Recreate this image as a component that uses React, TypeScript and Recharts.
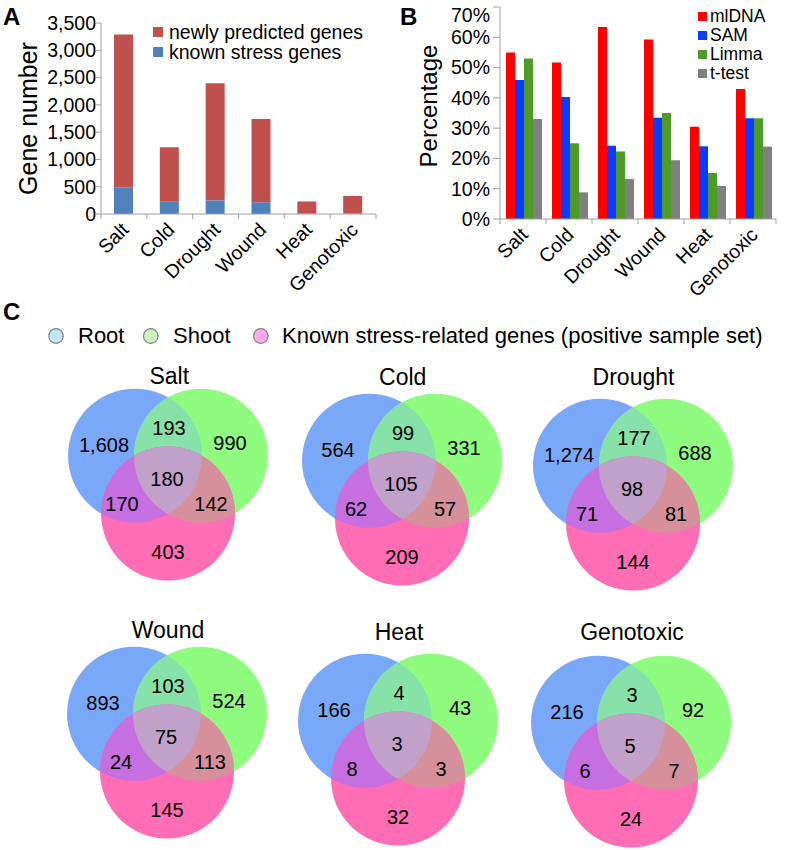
import React from 'react';
import { BarChart, Bar, XAxis, YAxis, Legend, ScatterChart, Scatter } from 'recharts';

const FONT = '"Liberation Sans", Arial, Helvetica, sans-serif';
const AXIS_GRAY = '#a0a0a0';

// ---- shared categories
const stresses = ['Salt', 'Cold', 'Drought', 'Wound', 'Heat', 'Genotoxic'];

// ---- panel A: gene numbers
const knownStressGenes = [490, 225, 250, 215, 5, 15];
const newlyPredictedGenes = [2800, 1000, 2145, 1525, 225, 315];
const geneTicks = [0, 500, 1000, 1500, 2000, 2500, 3000, 3500];

// ---- panel B: percentages
const mlDNA = [55, 51.7, 63.4, 59.3, 30.5, 42.9];
const sam = [45.9, 40.3, 24.2, 33.4, 24, 33.3];
const limma = [53, 25, 22.3, 35, 15.2, 33.3];
const tTest = [33, 8.8, 13.2, 19.4, 10.9, 23.9];
const pctTicks = [0, 10, 20, 30, 40, 50, 60, 70];

// ---- panel C: region counts
// order: root only, root&shoot, shoot only, all three, root&known, shoot&known, known only
const saltVenn = [1608, 193, 990, 180, 170, 142, 403];
const coldVenn = [564, 99, 331, 105, 62, 57, 209];
const droughtVenn = [1274, 177, 688, 98, 71, 81, 144];
const woundVenn = [893, 103, 524, 75, 24, 113, 145];
const heatVenn = [166, 4, 43, 3, 8, 3, 32];
const genotoxicVenn = [216, 3, 92, 5, 6, 7, 24];

const panelAData = stresses.map((s, i) => ({ name: s, known: knownStressGenes[i], newly: newlyPredictedGenes[i] }));
const panelBData = stresses.map((s, i) => ({ name: s, mlDNA: mlDNA[i], SAM: sam[i], Limma: limma[i], tTest: tTest[i] }));

// venn layout (local units = px)
const VENN_R = 67;
const vennSets = [
  { id: 'root', x: -33, y: -19.3, fill: '#7aa8f9' },
  { id: 'shoot', x: 33, y: -19.3, fill: '#8ffb7f' },
  { id: 'known', x: 0, y: 38.5, fill: '#ff6db4' },
];
const vennOverlaps = [
  { x: 33, y: -19.3, clip: 'root', fill: '#86e2a8' },
  { x: 0, y: 38.5, clip: 'root', fill: '#c56fe0' },
  { x: 0, y: 38.5, clip: 'shoot', fill: '#d6909b' },
  { x: 0, y: 38.5, clip: 'rootShoot', fill: '#c1a0c9' },
];
const regionSpots = [
  { x: -64, y: -30 }, { x: 1, y: -47 }, { x: 62, y: -32 }, { x: -1, y: 4 },
  { x: -46, y: 29 }, { x: 43, y: 29 }, { x: 0, y: 77 },
];
const vennPanels = [
  { id: 'salt', title: 'Salt', counts: saltVenn, cx: 168.3, cy: 474.8, base: 384 },
  { id: 'cold', title: 'Cold', counts: coldVenn, cx: 401.7, cy: 479.5, base: 385 },
  { id: 'drought', title: 'Drought', counts: droughtVenn, cx: 632.5, cy: 485.4, base: 385 },
  { id: 'wound', title: 'Wound', counts: woundVenn, cx: 167, cy: 732.9, base: 638 },
  { id: 'heat', title: 'Heat', counts: heatVenn, cx: 398, cy: 740, base: 640 },
  { id: 'geno', title: 'Genotoxic', counts: genotoxicVenn, cx: 631, cy: 741.9, base: 640 },
];

const CategoryTick = (props: any) => {
  const { x, y, payload, index, band, count } = props;
  const tx = x + 6;
  const ty = y + 17;
  return (
    <g>
      <line x1={x - band / 2} y1={y} x2={x - band / 2} y2={y + 5} stroke={AXIS_GRAY} />
      {index === count - 1 && <line x1={x + band / 2} y1={y} x2={x + band / 2} y2={y + 5} stroke={AXIS_GRAY} />}
      <text x={tx} y={ty} transform={`rotate(-45 ${tx} ${ty})`} textAnchor="end" fontSize={19.5} fontFamily={FONT} fill="#000">
        {payload.value}
      </text>
    </g>
  );
};

// value tick that keeps the top label inside the panel (as Excel does)
const ValueTick = (props: any) => {
  const { x, y, payload, tickFormatter } = props;
  const ty = Math.max(y, 15);
  return (
    <text x={x} y={ty} dy="0.35em" textAnchor="end" fontSize={19.5} fontFamily={FONT} fill="#000">
      {tickFormatter ? tickFormatter(payload.value) : payload.value}
    </text>
  );
};

const squareLegend = (size: number, gap: number, rowH: number, fontSize: number, order: string[]) => (props: any) => {
  const items = [...(props.payload || [])].sort((a: any, b: any) => order.indexOf(a.value) - order.indexOf(b.value));
  return (
    <div style={{ fontFamily: FONT, fontSize, color: '#000' }}>
      {items.map((it: any) => (
        <div key={it.value} style={{ display: 'flex', alignItems: 'center', height: rowH, lineHeight: `${rowH}px`, whiteSpace: 'nowrap' }}>
          <span style={{ display: 'inline-block', width: size, height: size, background: it.color, marginRight: gap }} />
          <span>{it.value}</span>
        </div>
      ))}
    </div>
  );
};

const tickStyle = { fill: '#000', fontSize: 19.5, fontFamily: FONT };

function VennChart({ id, counts }: { id: string; counts: number[] }) {
  const setShape = (p: any) => {
    const { cx, cy, payload } = p;
    return (
      <g>
        <clipPath id={`${id}-${payload.id}`}>
          <circle cx={cx} cy={cy} r={VENN_R} />
        </clipPath>
        {payload.id === 'root' && (
          <clipPath id={`${id}-rootShoot`} clipPath={`url(#${id}-shoot)`}>
            <circle cx={cx} cy={cy} r={VENN_R} />
          </clipPath>
        )}
        <circle cx={cx} cy={cy} r={VENN_R} fill={payload.fill} />
      </g>
    );
  };
  const overlapShape = (p: any) => {
    const { cx, cy, payload } = p;
    return <circle cx={cx} cy={cy} r={VENN_R} fill={payload.fill} clipPath={`url(#${id}-${payload.clip})`} />;
  };
  const labelShape = (p: any) => {
    const { cx, cy, payload } = p;
    return (
      <text x={cx} y={cy} dy="0.36em" textAnchor="middle" fontSize={20} fontFamily={FONT} fill="#000">
        {payload.count.toLocaleString('en-US')}
      </text>
    );
  };
  const labels = regionSpots.map((s, i) => ({ x: s.x, y: s.y, count: counts[i] }));
  return (
    <ScatterChart width={250} height={240} margin={{ top: 0, right: 0, bottom: 0, left: 0 }}>
      <XAxis type="number" dataKey="x" domain={[-125, 125]} hide allowDataOverflow />
      <YAxis type="number" dataKey="y" domain={[-120, 120]} reversed hide width={0} allowDataOverflow />
      <Scatter data={vennSets} shape={setShape} isAnimationActive={false} />
      <Scatter data={vennOverlaps} shape={overlapShape} isAnimationActive={false} />
      <Scatter data={labels} shape={labelShape} isAnimationActive={false} />
    </ScatterChart>
  );
}

const panelLetter = (letter: string, left: number, top: number) => (
  <div style={{ position: 'absolute', left, top, fontSize: 24, lineHeight: 1, fontWeight: 'bold', fontFamily: FONT }}>{letter}</div>
);

export default function App() {
  const bandA = 275 / stresses.length;
  const bandB = 276 / stresses.length;
  const pct = (v: number) => `${v}%`;
  return (
    <div style={{ position: 'absolute', left: 0, top: 0, width: 796, height: 850, background: '#fff', overflow: 'hidden', fontFamily: FONT }}>
      {/* Panel A */}
      <div style={{ position: 'absolute', left: 0, top: 0 }}>
        <BarChart width={400} height={300} data={panelAData} margin={{ top: 23, right: 24, bottom: 26, left: 41 }}>
          <XAxis dataKey="name" height={60} interval={0} tickSize={0} tickMargin={0} axisLine={{ stroke: AXIS_GRAY }}
            tick={(p: any) => <CategoryTick {...p} band={bandA} count={stresses.length} />} />
          <YAxis width={60} domain={[0, 3500]} ticks={geneTicks} interval={0} tickSize={5} tickMargin={0}
            axisLine={{ stroke: AXIS_GRAY }} tickLine={{ stroke: AXIS_GRAY }} tick={tickStyle}
            tickFormatter={(v: number) => v.toLocaleString('en-US')} />
          <Legend layout="vertical" align="center" verticalAlign="middle"
            content={squareLegend(10, 6, 20, 19.5, ['newly predicted genes', 'known stress genes'])}
            wrapperStyle={{ top: 21.7, left: 153, width: 'auto', height: 'auto' }} />
          <Bar dataKey="known" name="known stress genes" stackId="a" fill="#4f81bd" barSize={19} isAnimationActive={false} />
          <Bar dataKey="newly" name="newly predicted genes" stackId="a" fill="#c0504d" barSize={19} isAnimationActive={false} />
        </BarChart>
      </div>
      <div style={{ position: 'absolute', left: 28 - 80, top: 118 - 12.5, width: 160, height: 25, lineHeight: '25px', fontSize: 25, textAlign: 'center', transform: 'rotate(-90deg)' }}>Gene number</div>
      {panelLetter('A', 3, 5)}

      {/* Panel B */}
      <div style={{ position: 'absolute', left: 400, top: 0 }}>
        <BarChart width={396} height={300} data={panelBData} margin={{ top: 7, right: 20, bottom: 21, left: 40 }} barCategoryGap={6} barGap={0}>
          <XAxis dataKey="name" height={60} interval={0} tickSize={0} tickMargin={0} axisLine={{ stroke: AXIS_GRAY }}
            tick={(p: any) => <CategoryTick {...p} band={bandB} count={stresses.length} />} />
          <YAxis width={60} domain={[0, 70]} ticks={pctTicks} interval={0} tickSize={7} tickMargin={3}
            axisLine={{ stroke: AXIS_GRAY }} tickLine={{ stroke: AXIS_GRAY }}
            tick={(p: any) => <ValueTick {...p} tickFormatter={pct} />} />
          <Legend layout="vertical" align="center" verticalAlign="middle"
            content={squareLegend(9, 3, 19, 17.5, ['mlDNA', 'SAM', 'Limma', 't-test'])}
            wrapperStyle={{ top: 6.5, left: 298, width: 'auto', height: 'auto' }} />
          <Bar dataKey="mlDNA" name="mlDNA" fill="#ff0000" isAnimationActive={false} />
          <Bar dataKey="SAM" name="SAM" fill="#0a3cff" isAnimationActive={false} />
          <Bar dataKey="Limma" name="Limma" fill="#4e9b28" isAnimationActive={false} />
          <Bar dataKey="tTest" name="t-test" fill="#808080" isAnimationActive={false} />
        </BarChart>
      </div>
      <div style={{ position: 'absolute', left: 429 - 80, top: 106 - 12, width: 160, height: 24, lineHeight: '24px', fontSize: 24, textAlign: 'center', transform: 'rotate(-90deg)' }}>Percentage</div>
      {panelLetter('B', 400, 5)}

      {/* Panel C */}
      {panelLetter('C', 3, 300)}
      <svg width={796} height={40} style={{ position: 'absolute', left: 0, top: 316 }}>
        <circle cx={56} cy={20} r={7.3} fill="#c0e6f8" stroke="#808080" strokeWidth={1.2} />
        <text x={78} y={27} fontSize={22} fontFamily={FONT} fill="#000">Root</text>
        <circle cx={150.8} cy={20} r={7.3} fill="#c8f5c0" stroke="#808080" strokeWidth={1.2} />
        <text x={173} y={27} fontSize={22} fontFamily={FONT} fill="#000">Shoot</text>
        <circle cx={260.8} cy={20} r={7.3} fill="#ffa8ee" stroke="#808080" strokeWidth={1.2} />
        <text x={282} y={27} fontSize={22} fontFamily={FONT} fill="#000">Known stress-related genes (positive sample set)</text>
      </svg>
      {vennPanels.map((v) => (
        <React.Fragment key={v.id}>
          <div style={{ position: 'absolute', left: v.cx - 125, top: v.cy - 120 }}>
            <VennChart id={v.id} counts={v.counts} />
          </div>
          <div style={{ position: 'absolute', left: v.cx + 1 - 100, top: v.base - 19.5, width: 200, textAlign: 'center', fontSize: 23, lineHeight: 1 }}>
            {v.title}
          </div>
        </React.Fragment>
      ))}
    </div>
  );
}
